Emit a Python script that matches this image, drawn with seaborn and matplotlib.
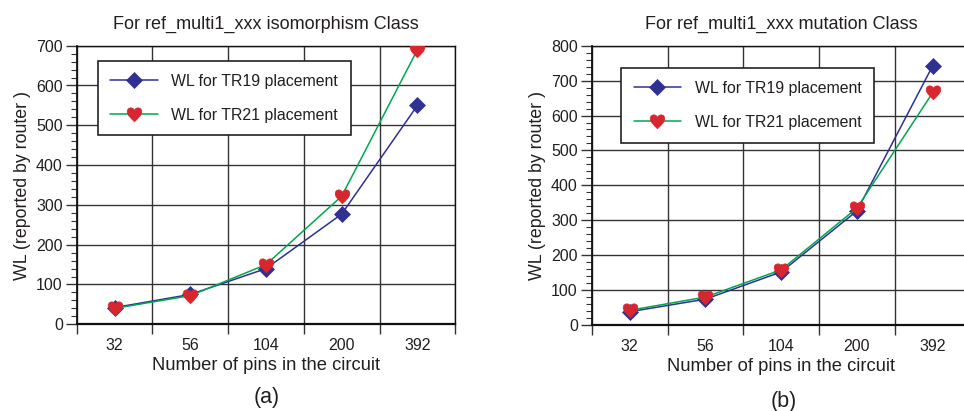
import matplotlib
matplotlib.use("Agg")
import matplotlib.pyplot as plt
from matplotlib.path import Path
from matplotlib.ticker import FixedLocator, MultipleLocator, NullFormatter
import pandas as pd
import seaborn as sns

# ---- data -------------------------------------------------------------
pins = ["32", "56", "104", "200", "392"]
series_names = ["WL for TR19 placement", "WL for TR21 placement"]

iso_tr19 = [42, 75, 140, 277, 550]
iso_tr21 = [40, 72, 150, 322, 690]

mut_tr19 = [38, 74, 152, 327, 743]
mut_tr21 = [42, 80, 158, 335, 666]

titles = ["For ref_multi1_xxx isomorphism Class",
          "For ref_multi1_xxx mutation Class"]
panel_tags = ["(a)", "(b)"]
y_limits = [700, 800]

# ---- style ------------------------------------------------------------
sns.set_theme(style="white")
plt.rcParams["font.family"] = ["Liberation Sans", "DejaVu Sans"]
TEXT = "#231f20"
NAVY = "#2e3192"
GREEN = "#00a651"
RED = "#d7262e"
GRID = "#333333"

# filled heart used as the TR21 marker
heart = Path(
    [(0, -1.0),
     (-0.55, -0.45), (-1.05, -0.05), (-1.0, 0.45),
     (-0.95, 1.0), (-0.2, 1.1), (0, 0.55),
     (0.2, 1.1), (0.95, 1.0), (1.0, 0.45),
     (1.05, -0.05), (0.55, -0.45), (0, -1.0),
     (0, -1.0)],
    [Path.MOVETO,
     Path.CURVE4, Path.CURVE4, Path.CURVE4,
     Path.CURVE4, Path.CURVE4, Path.CURVE4,
     Path.CURVE4, Path.CURVE4, Path.CURVE4,
     Path.CURVE4, Path.CURVE4, Path.CURVE4,
     Path.CLOSEPOLY])

fig = plt.figure(figsize=(9.64, 4.11), dpi=100)
W, H = 964.0, 411.0

# axes boxes in pixels: left, top, right, bottom
boxes = [(76.7, 45.7, 455.3, 324.3), (591.7, 45.7, 970.7, 325.0)]
legend_xy = [(97.7, 61.0), (621.0, 68.3)]
tag_xy = [(267, 397), (784, 401)]

panels = [(iso_tr19, iso_tr21), (mut_tr19, mut_tr21)]

for i, (tr19, tr21) in enumerate(panels):
    l, t, r, b = boxes[i]
    ax = fig.add_axes([l / W, 1 - b / H, (r - l) / W, (b - t) / H])

    df = pd.DataFrame({
        "pins": pins * 2,
        "WL": list(tr19) + list(tr21),
        "series": [series_names[0]] * len(pins) + [series_names[1]] * len(pins),
    })

    sns.lineplot(
        data=df, x="pins", y="WL", hue="series", style="series",
        hue_order=series_names, style_order=series_names,
        palette={series_names[0]: NAVY, series_names[1]: GREEN},
        markers={series_names[0]: "D", series_names[1]: heart},
        dashes=False, linewidth=1.1, markersize=8, legend=False,
        sort=False, ax=ax, zorder=5,
    )

    line19, line21 = ax.lines[0], ax.lines[1]
    line19.set_markerfacecolor(NAVY)
    line19.set_markeredgecolor(NAVY)
    line19.set_markersize(8)
    line19.set_markeredgewidth(0.5)
    line21.set_markerfacecolor(RED)
    line21.set_markeredgecolor(RED)
    line21.set_markersize(11.5)
    line21.set_markeredgewidth(0.5)

    # category bands: gridlines on the band edges, labels in the centres
    ax.set_xlim(-0.5, len(pins) - 0.5)
    ax.xaxis.set_major_locator(FixedLocator([k - 0.5 for k in range(len(pins) + 1)]))
    ax.xaxis.set_major_formatter(NullFormatter())
    ax.xaxis.set_minor_locator(FixedLocator(list(range(len(pins)))))
    ax.set_xticklabels(pins, minor=True)
    ax.tick_params(axis="x", which="major", direction="out", length=7,
                   width=1.0, color=GRID, bottom=True)
    ax.tick_params(axis="x", which="minor", length=0, pad=10,
                   labelsize=11.5, labelcolor=TEXT)

    ax.set_ylim(0, y_limits[i])
    ax.yaxis.set_major_locator(MultipleLocator(100))
    ax.yaxis.set_minor_locator(MultipleLocator(20))
    ax.tick_params(axis="y", which="major", direction="out", length=8,
                   width=1.0, color=GRID, left=True, pad=2,
                   labelsize=11.5, labelcolor=TEXT)
    ax.tick_params(axis="y", which="minor", direction="out", length=4,
                   width=0.8, color=GRID, left=True)

    ax.grid(True, which="major", color=GRID, linewidth=1.0)
    ax.set_axisbelow(True)
    for side, sp in ax.spines.items():
        sp.set_visible(True)
        sp.set_color("#111111")
        sp.set_linewidth(1.0)
    ax.spines["bottom"].set_linewidth(1.6)
    ax.spines["left"].set_linewidth(1.3)

    ax.set_xlabel("Number of pins in the circuit", fontsize=13.2,
                  color=TEXT, labelpad=3)
    ax.set_ylabel("WL (reported by router )", fontsize=12.8,
                  color=TEXT, labelpad=4)
    ax.set_title(titles[i], fontsize=13, color=TEXT, pad=12)

    lx, ly = legend_xy[i]
    leg = ax.legend(
        handles=[line19, line21], labels=series_names,
        loc="upper left",
        bbox_to_anchor=((lx - l) / (r - l), 1 - (ly - t) / (b - t)),
        fontsize=11.4, frameon=True, fancybox=False, framealpha=1.0,
        edgecolor="#222222", borderpad=0.8, labelspacing=1.2,
        handlelength=3.0, handletextpad=0.85, borderaxespad=0.0,
        labelcolor=TEXT,
    )
    leg.get_frame().set_linewidth(1.2)

    fig.text(tag_xy[i][0] / W, 1 - tag_xy[i][1] / H, panel_tags[i],
             ha="center", va="center", fontsize=15.5, color=TEXT)

fig.savefig("out.png", dpi=100)
